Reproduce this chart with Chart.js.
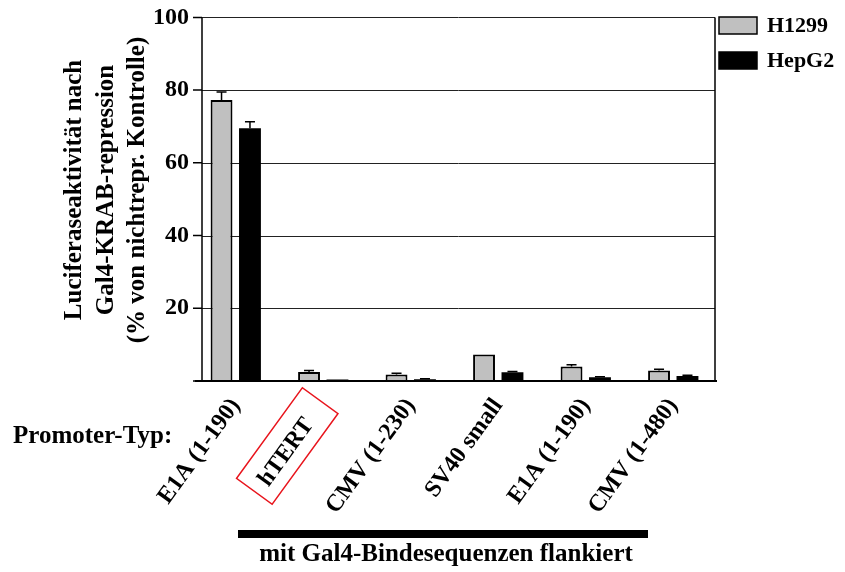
<!DOCTYPE html>
<html>
<head>
<meta charset="utf-8">
<script src="https://cdn.jsdelivr.net/npm/chart.js@4.4.1/dist/chart.umd.min.js"></script>
<style>
  html, body { margin: 0; padding: 0; background: #fff; }
</style>
</head>
<body>
<canvas id="luciferaseChart" width="845" height="572"></canvas>
<script>
// promoter constructs (x axis)
const promoters = ['E1A (1-190)', 'hTERT', 'CMV (1-230)', 'SV40 small', 'E1A (1-190)', 'CMV (1-480)'];

// luciferase activity, % of non-repressed control
const h1299 = [77.3, 2.5, 1.8, 7.3, 4.0, 2.9];
const h1299Err = [2.2, 0.4, 0.3, 0, 0.5, 0.3];
const hepg2 = [69.5, 0.4, 0.5, 2.4, 1.0, 1.4];
const hepg2Err = [1.8, 0, 0.15, 0.2, 0.2, 0.2];

const yTicks = [0, 20, 40, 60, 80, 100];

const SERIF = '"Liberation Serif", "Times New Roman", serif';
const AXIS_X = 202;   // drawn y axis line
const RIGHT_X = 715;  // right frame line

const decorations = {
    id: 'decorations',
    beforeDatasetsDraw(chart) {
        const { ctx, scales: { y } } = chart;
        ctx.save();
        ctx.strokeStyle = '#222';
        ctx.lineWidth = 1;
        yTicks.forEach(v => {
            if (v === 0) return;
            const py = Math.round(y.getPixelForValue(v)) + 0.5;
            ctx.beginPath();
            ctx.moveTo(AXIS_X, py);
            ctx.lineTo(RIGHT_X, py);
            ctx.stroke();
        });
        ctx.restore();
    },
    afterDatasetsDraw(chart) {
        const { ctx, scales: { x, y } } = chart;
        const y0 = y.getPixelForValue(0);
        const yTop = y.getPixelForValue(100);
        ctx.save();

        // error bars (upper half only)
        const errs = [h1299Err, hepg2Err];
        const vals = [h1299, hepg2];
        ctx.strokeStyle = '#000';
        ctx.lineWidth = 1.5;
        [0, 1].forEach(i => {
            chart.getDatasetMeta(i).data.forEach((bar, j) => {
                const e = errs[i][j];
                if (!e) return;
                const top = y.getPixelForValue(vals[i][j] + e);
                ctx.beginPath();
                ctx.moveTo(bar.x, bar.y);
                ctx.lineTo(bar.x, top);
                ctx.moveTo(bar.x - 5, top);
                ctx.lineTo(bar.x + 5, top);
                ctx.stroke();
            });
        });

        // axes and frame
        ctx.lineWidth = 1.5;
        ctx.beginPath();
        ctx.moveTo(AXIS_X, yTop);
        ctx.lineTo(AXIS_X, y0);
        ctx.moveTo(RIGHT_X, yTop);
        ctx.lineTo(RIGHT_X, y0);
        yTicks.forEach(v => {
            const py = y.getPixelForValue(v);
            ctx.moveTo(AXIS_X - 9, py);
            ctx.lineTo(AXIS_X, py);
        });
        ctx.stroke();
        ctx.lineWidth = 2;
        ctx.beginPath();
        ctx.moveTo(195, y0);
        ctx.lineTo(RIGHT_X + 2, y0);
        ctx.stroke();

        // legend
        const legend = [['H1299', '#c0c0c0', 17], ['HepG2', '#000', 52]];
        legend.forEach(([name, color, top]) => {
            ctx.fillStyle = color;
            ctx.fillRect(719, top, 38, 17);
            ctx.strokeStyle = '#000';
            ctx.lineWidth = 1.5;
            ctx.strokeRect(719, top, 38, 17);
            ctx.fillStyle = '#000';
            ctx.font = 'bold 22px ' + SERIF;
            ctx.textAlign = 'left';
            ctx.textBaseline = 'middle';
            ctx.fillText(name, 767, top + 9);
        });

        // y axis title
        ctx.save();
        ctx.translate(0, 190);
        ctx.rotate(-Math.PI / 2);
        ctx.font = 'bold 25px ' + SERIF;
        ctx.textAlign = 'center';
        ctx.textBaseline = 'middle';
        ['Luciferaseaktivität nach', 'Gal4-KRAB-repression', '(% von nichtrepr. Kontrolle)']
            .forEach((line, k) => ctx.fillText(line, 0, 75 + k * 31.5));
        ctx.restore();

        // row label
        ctx.font = 'bold 25px ' + SERIF;
        ctx.textAlign = 'left';
        ctx.textBaseline = 'alphabetic';
        ctx.fillText('Promoter-Typ:', 13, 443);

        // red frame around hTERT
        ctx.save();
        ctx.translate(x.getPixelForTick(1) - 36, y0 + 65);
        ctx.rotate(-54 * Math.PI / 180);
        ctx.strokeStyle = '#e8141c';
        ctx.lineWidth = 1.5;
        ctx.strokeRect(-56, -22, 112, 44);
        ctx.restore();

        // bracket for Gal4-flanked constructs
        ctx.fillStyle = '#000';
        ctx.fillRect(238, 530, 410, 8);
        ctx.font = 'bold 25px ' + SERIF;
        ctx.textAlign = 'center';
        ctx.textBaseline = 'middle';
        ctx.fillText('mit Gal4-Bindesequenzen flankiert', 446, 555);

        ctx.restore();
    }
};

const ctx = document.getElementById('luciferaseChart').getContext('2d');

new Chart(ctx, {
    type: 'bar',
    data: {
        labels: promoters,
        datasets: [
            {
                label: 'H1299',
                data: h1299,
                backgroundColor: '#c0c0c0',
                borderColor: '#000',
                borderWidth: 2,
            },
            {
                label: 'HepG2',
                data: hepg2,
                backgroundColor: '#000',
                borderColor: '#000',
                borderWidth: 0,
            },
        ],
    },
    options: {
        responsive: false,
        animation: false,
        devicePixelRatio: 1,
        categoryPercentage: 0.65,
        barPercentage: 0.77,
        layout: { padding: { top: 16, right: 128, bottom: 0, left: 0 } },
        plugins: {
            legend: { display: false },
            tooltip: { enabled: false },
        },
        scales: {
            x: {
                grid: { display: false, drawTicks: false },
                border: { display: false },
                ticks: {
                    autoSkip: false,
                    minRotation: 54,
                    maxRotation: 54,
                    padding: 12,
                    color: '#000',
                    font: { family: SERIF, size: 24, weight: 'bold' },
                    // hTERT sits lower, centred in its red frame
                    callback: (v, i) => (i === 1 ? promoters[i] + '\u00a0\u00a0\u00a0\u00a0' : promoters[i]),
                },
                afterFit: scale => { scale.height = 191; },
            },
            y: {
                min: 0,
                max: 100,
                grid: { display: false, drawTicks: false },
                border: { display: false },
                afterBuildTicks: scale => { scale.ticks = yTicks.map(v => ({ value: v })); },
                ticks: {
                    padding: 3,
                    color: '#000',
                    font: { family: SERIF, size: 24, weight: 'bold' },
                    callback: v => (v === 0 ? '' : v),
                },
                afterFit: scale => { scale.width = 192; },
            },
        },
    },
    plugins: [decorations],
});
</script>
</body>
</html>
